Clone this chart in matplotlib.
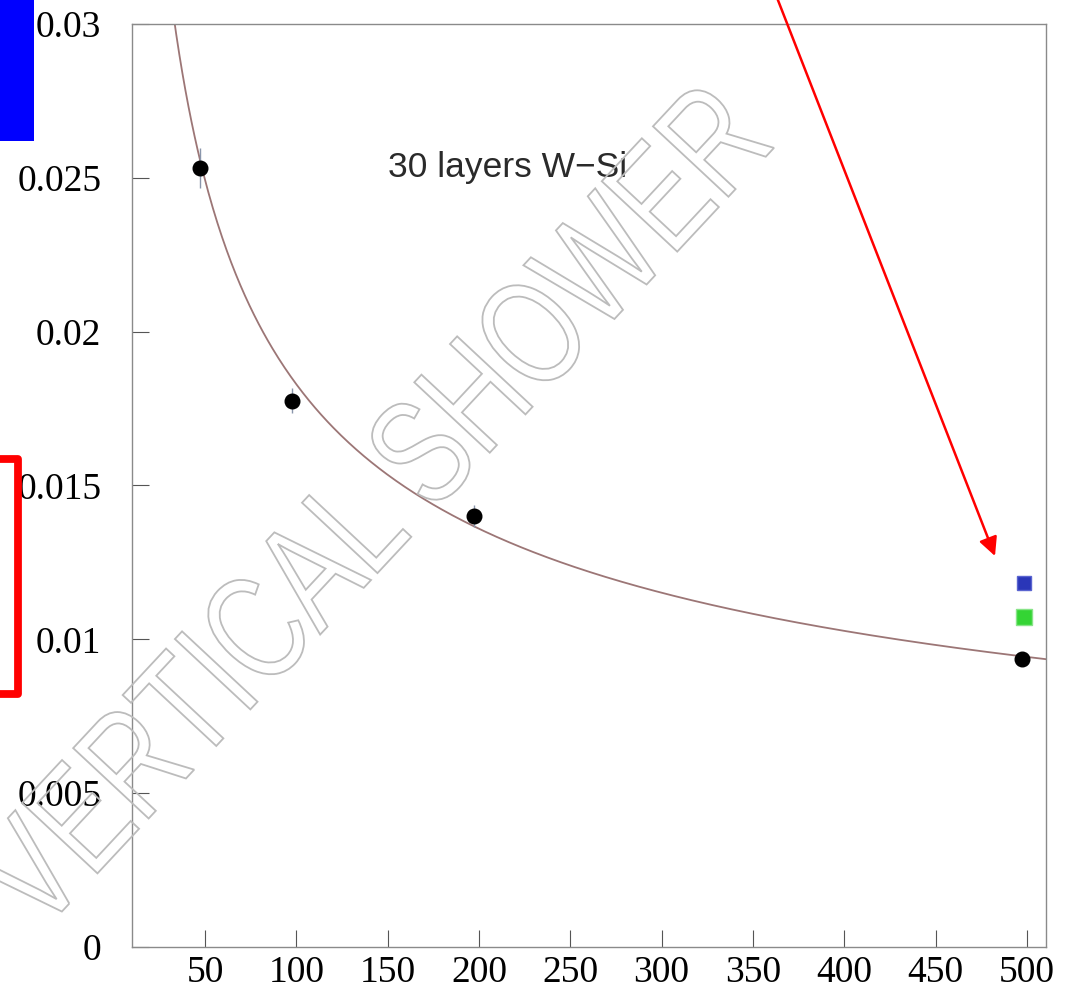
import numpy as np
import matplotlib
matplotlib.use("Agg")
import matplotlib.pyplot as plt
from matplotlib.transforms import Affine2D
from matplotlib.textpath import TextPath
from matplotlib.font_manager import FontProperties
from matplotlib.patches import PathPatch, Rectangle, FancyArrowPatch
from matplotlib.lines import Line2D

# measured resolution vs energy, 30 layer W-Si calorimeter
energy = [47.5, 97.5, 197.5, 497.5]
resol = [0.02531, 0.01776, 0.01401, 0.00935]
resol_err = [0.00065, 0.00040, 0.00035, 0.00020]

# single points at 500 GeV for the two alternative setups
alt_energy = [498.5]
alt_blue = [0.01183]
alt_green = [0.01073]

# fit  sigma = p0/sqrt(E) + p1
p0 = 0.1603
p1 = 0.00226

xticks = [50, 100, 150, 200, 250, 300, 350, 400, 450, 500]
yticks = [0, 0.005, 0.01, 0.015, 0.02, 0.025, 0.03]
ytick_labels = ['0', '0.005', '0.01', '0.015', '0.02', '0.025', '0.03']

W, H = 1071, 988
fig = plt.figure(figsize=(W / 100, H / 100), dpi=100)
ax = fig.add_axes([132 / W, 1 - 947 / H, (1046 - 132) / W, (947 - 24) / H])

ax.set_xlim(10, 510.5)
ax.set_ylim(0, 0.03)

# fitted curve
e_fit = np.linspace(10, 510.5, 600)
ax.plot(e_fit, p0 / np.sqrt(e_fit) + p1, color='#9c7676', lw=1.3, zorder=2)

ax.errorbar(energy, resol, yerr=resol_err, fmt='o', color='black', ms=10.5,
            ecolor='#8a96ac', elinewidth=1.0, capsize=0, zorder=3)
ax.plot(alt_energy, alt_blue, 's', color='#2a36b8', mec='#5a64d0', ms=10.5, zorder=3)
ax.plot(alt_energy, alt_green, 's', color='#34d434', mec='#88e488', ms=11.5, zorder=3)

ax.text(150, 0.02503, '30 layers W\u2212Si', fontsize=25.5, family='Liberation Sans',
        color='#2a2a2a', va='baseline', ha='left')

serif = 'Liberation Serif'
ax.set_xticks(xticks)
ax.set_xticklabels([str(v) for v in xticks], fontsize=27, family=serif)
ax.set_yticks(yticks)
ax.set_yticklabels(ytick_labels, fontsize=27, family=serif)
ax.tick_params(direction='in', length=12.5, width=0.8, color='#555555')
ax.tick_params(axis='x', pad=6)
ax.tick_params(axis='y', pad=22)
for s in ax.spines.values():
    s.set_color('#8a8a8a')
    s.set_linewidth(1.0)

# overlays in pixel units (origin top-left)
px = Affine2D().scale(1 / 100, -1 / 100).translate(0, H / 100) + fig.dpi_scale_trans

fig.add_artist(Rectangle((0, 0), 34, 141, facecolor='#0000ff', edgecolor='none',
                         transform=px, zorder=5))
fig.add_artist(Line2D([0, 18, 18, 0], [459, 459, 694, 694], color='#ff0000', lw=5.6,
                      solid_joinstyle='round', transform=px, zorder=5))
fig.add_artist(FancyArrowPatch((774, -10), (995, 556), arrowstyle='-|>',
                               mutation_scale=28, lw=1.8, color='#ff0000',
                               shrinkA=0, shrinkB=0, transform=px, zorder=5))

# outlined watermark
tp = TextPath((0, 0), 'VERTICAL SHOWER', size=150,
              prop=FontProperties(family='Liberation Sans'))
wm = Affine2D().scale(0.75, 1).rotate_deg(47).translate(40, H - 935) \
    + Affine2D().scale(1 / 100) + fig.dpi_scale_trans
fig.add_artist(PathPatch(tp, facecolor='none', edgecolor='#bcbcbc', lw=1.3,
                         transform=wm, zorder=6))

fig.savefig('out.png', dpi=100)
